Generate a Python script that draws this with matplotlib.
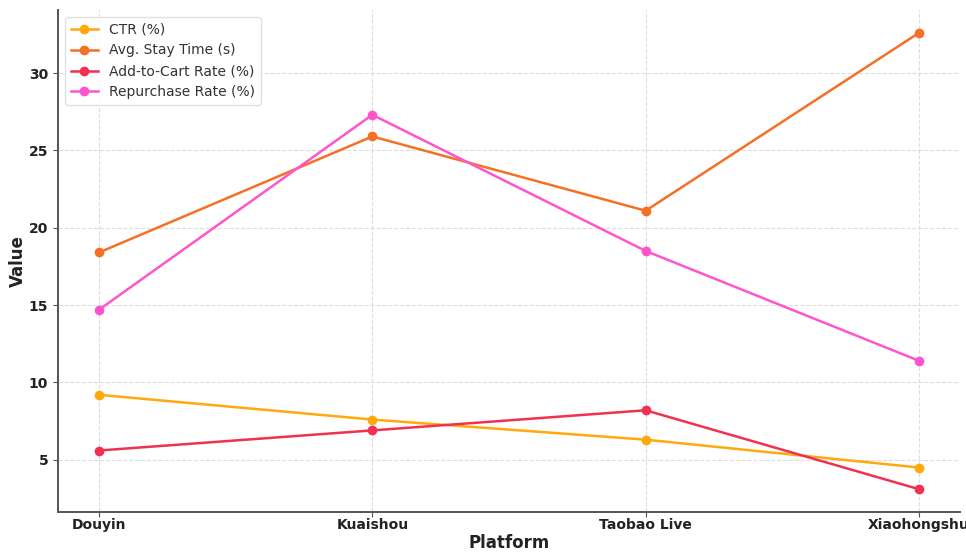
import matplotlib
matplotlib.use("Agg")
import matplotlib.pyplot as plt

platforms = ["Douyin", "Kuaishou", "Taobao Live", "Xiaohongshu"]
ctr = [9.2, 7.6, 6.3, 4.5]
stay_time = [18.4, 25.9, 21.1, 32.6]
add_to_cart = [5.6, 6.9, 8.2, 3.1]
repurchase = [14.7, 27.3, 18.5, 11.4]

series = [
    ("CTR (%)", ctr, "#FFA90A"),
    ("Avg. Stay Time (s)", stay_time, "#F47024"),
    ("Add-to-Cart Rate (%)", add_to_cart, "#F2304F"),
    ("Repurchase Rate (%)", repurchase, "#FF55CC"),
]

fig = plt.figure(figsize=(9.66, 5.54), dpi=100)
ax = fig.add_axes([58/966, 1-512/554, (960-58)/966, (512-10)/554])

x = list(range(len(platforms)))
for label, vals, color in series:
    ax.plot(x, vals, marker="o", color=color, label=label, linewidth=1.8, markersize=6)

ax.set_xticks(x)
ax.set_xticklabels(platforms)
ax.grid(True, linestyle="--", color="#dddddd", linewidth=0.8)
ax.set_axisbelow(True)
for s in ["top", "right"]:
    ax.spines[s].set_visible(False)
for s in ["left", "bottom"]:
    ax.spines[s].set_color("#555555")
    ax.spines[s].set_linewidth(1.4)
ax.tick_params(colors="#555555", labelcolor="#222222", length=3.5)
ax.tick_params(axis="x", pad=1)
for lbl in ax.get_xticklabels() + ax.get_yticklabels():
    lbl.set_fontweight("bold")
    lbl.set_fontsize(10)
ax.set_xlabel("Platform", fontsize=12, fontweight="bold", color="#222222", labelpad=1)
ax.set_ylabel("Value", fontsize=12, fontweight="bold", color="#222222", labelpad=1)
leg = ax.legend(loc="upper left", fontsize=10, framealpha=0.9, edgecolor="#dddddd")
for t in leg.get_texts():
    t.set_color("#333333")

fig.savefig("out.png", dpi=100)
